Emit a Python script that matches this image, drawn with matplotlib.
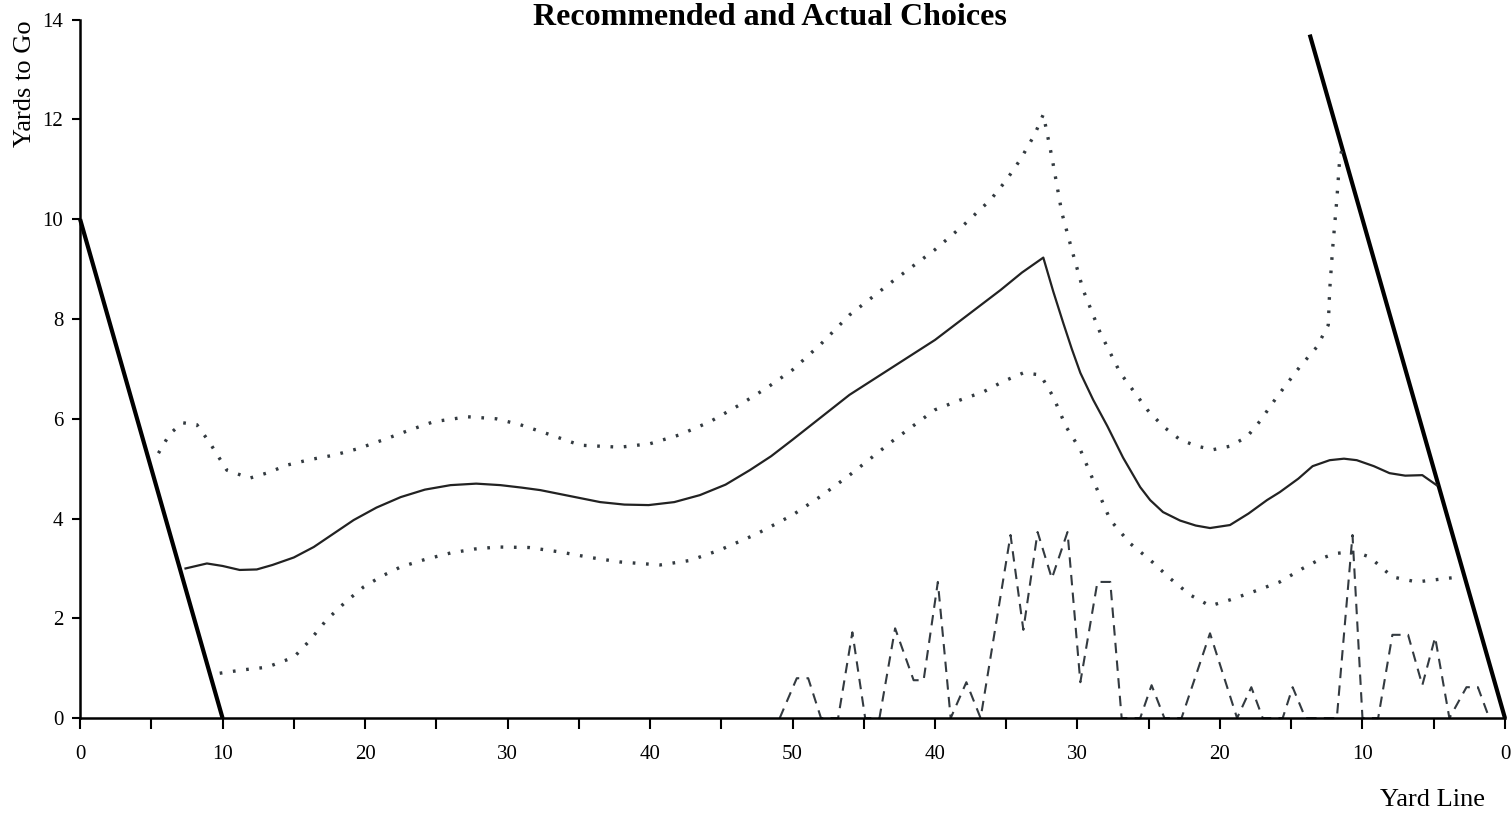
import numpy as np
import matplotlib.pyplot as plt

# ========================
# Data (x = yards from own goal line, y = yards to go)
# ========================
# boundary lines (heavy)
left_bound_x = [0, 10]
left_bound_y = [10, 0]
right_bound_x = [86.3, 100]
right_bound_y = [13.7, 0]

# recommended (solid)
rec_x = [7.4, 8.9, 10.0, 11.2, 12.4, 13.5, 15.0, 16.4, 17.8, 19.2, 20.8, 22.5, 24.2, 26.0,
         27.8, 29.5, 31.0, 32.3, 34.4, 36.5, 38.2, 39.9, 41.7, 43.5, 45.3, 47.0, 48.5, 50.0,
         52.0, 54.0, 57.0, 60.0, 62.3, 64.6, 66.1, 67.6, 68.3, 69.0, 69.6, 70.2, 71.1, 72.1,
         73.2, 74.4, 75.1, 76.0, 77.2, 78.3, 79.3, 80.7, 82.0, 83.3, 84.2, 85.5, 86.5, 87.7,
         88.7, 89.6, 90.8, 91.9, 93.0, 94.2, 95.2]
rec_y = [3.0, 3.1, 3.05, 2.97, 2.98, 3.07, 3.22, 3.43, 3.7, 3.97, 4.22, 4.43, 4.58, 4.67,
         4.7, 4.67, 4.62, 4.57, 4.45, 4.33, 4.28, 4.27, 4.33, 4.47, 4.68, 4.97, 5.25, 5.58,
         6.03, 6.48, 7.03, 7.58, 8.08, 8.58, 8.93, 9.23, 8.55, 7.92, 7.4, 6.92, 6.38, 5.85,
         5.22, 4.63, 4.37, 4.13, 3.96, 3.86, 3.81, 3.87, 4.1, 4.37, 4.53, 4.8, 5.05, 5.17,
         5.2, 5.17, 5.05, 4.91, 4.86, 4.87, 4.67]

# upper bound (dotted)
up_x = [5.5, 6.3, 7.2, 8.2, 9.1, 10.3, 11.9, 13.2, 14.5, 16.1, 17.8, 19.5, 21.3, 23.0,
        24.8, 27.2, 29.2, 30.9, 33.0, 35.1, 37.9, 40.0, 42.1, 44.2, 46.3, 48.2, 50.0, 52.0,
        54.0, 57.0, 60.0, 62.0, 63.9, 65.0, 66.0, 67.0, 67.6, 68.2, 68.9, 69.6, 70.4, 71.6,
        73.0, 74.9, 76.0, 77.2, 78.4, 79.5, 80.7, 81.9, 82.8, 84.0, 85.6, 86.8, 87.6, 87.7,
        87.9, 88.2, 88.4, 88.6]
up_y = [5.31, 5.7, 5.92, 5.88, 5.52, 4.97, 4.81, 4.92, 5.07, 5.18, 5.27, 5.4, 5.58, 5.76,
        5.94, 6.04, 6.0, 5.88, 5.68, 5.47, 5.43, 5.5, 5.68, 5.94, 6.28, 6.62, 6.98, 7.5,
        8.08, 8.75, 9.39, 9.88, 10.39, 10.78, 11.2, 11.7, 12.1, 11.25, 10.13, 9.39, 8.58, 7.72,
        6.92, 6.18, 5.85, 5.58, 5.45, 5.38, 5.45, 5.64, 5.95, 6.44, 7.04, 7.44, 7.88, 8.58,
        9.39, 10.39, 11.2, 11.45]

# lower bound (dotted)
lo_x = [9.8, 11.5, 13.1, 15.0, 16.1, 17.3, 18.6, 19.9, 21.2, 22.5, 24.2, 26.0, 27.7, 29.3,
        31.5, 33.7, 35.8, 37.9, 40.7, 42.8, 44.9, 47.4, 50.0, 52.0, 54.0, 57.0, 60.0, 61.8,
        63.4, 64.8, 66.2, 67.4, 68.3, 69.2, 70.2, 71.1, 72.3, 73.7, 75.1, 76.5, 77.9, 79.3,
        80.7, 82.5, 84.2, 85.8, 87.2, 88.1, 89.1, 89.8, 90.5, 91.3, 92.1, 93.8, 95.3, 96.8]
lo_y = [0.9, 0.97, 1.02, 1.22, 1.55, 1.97, 2.32, 2.63, 2.85, 3.03, 3.18, 3.31, 3.39, 3.43,
        3.42, 3.33, 3.22, 3.13, 3.07, 3.16, 3.37, 3.68, 4.07, 4.45, 4.87, 5.55, 6.18, 6.38,
        6.54, 6.75, 6.92, 6.88, 6.44, 5.84, 5.38, 4.77, 3.97, 3.5, 3.17, 2.8, 2.47, 2.25,
        2.37, 2.55, 2.73, 3.0, 3.21, 3.3, 3.33, 3.3, 3.23, 3.03, 2.83, 2.73, 2.78, 2.83]

# actual choices (dashed)
act_x = [49.1, 50.3, 51.1, 52.0, 53.2, 54.2, 55.1, 56.1, 57.2, 58.5, 59.2, 60.2, 61.1, 62.2,
         63.2, 65.3, 66.2, 67.2, 68.2, 69.3, 70.2, 71.4, 72.3, 73.1, 74.4, 75.2, 76.1, 77.3,
         79.3, 81.2, 82.2, 83.0, 84.4, 85.1, 86.0, 88.2, 89.3, 90.0, 91.1, 92.1, 93.2, 94.2,
         95.1, 96.1, 97.3, 98.1, 98.9]
act_y = [0.0, 0.8, 0.8, 0.0, 0.0, 1.72, 0.0, 0.0, 1.8, 0.76, 0.76, 2.73, 0.0, 0.72,
         0.0, 3.67, 1.77, 3.73, 2.8, 3.73, 0.72, 2.73, 2.73, 0.0, 0.0, 0.66, 0.0, 0.0,
         1.7, 0.0, 0.62, 0.0, 0.0, 0.62, 0.0, 0.0, 3.67, 0.0, 0.0, 1.67, 1.67, 0.66,
         1.62, 0.0, 0.62, 0.62, 0.0]

major_ticks = [0, 10, 20, 30, 40, 50, 60, 70, 80, 90, 100]
tick_labels = ["0", "10", "20", "30", "40", "50", "40", "30", "20", "10", "0"]
y_ticks = [0, 2, 4, 6, 8, 10, 12, 14]

# ========================
# Plot
# ========================
plt.rcParams["font.family"] = ["Liberation Serif", "DejaVu Serif"]

fig = plt.figure(figsize=(15.11, 8.17), dpi=100)
ax = fig.add_axes([0.053, 0.121, 0.943, 0.855])

ax.plot(left_bound_x, left_bound_y, color="black", lw=3.0, solid_capstyle="butt", clip_on=False)
ax.plot(right_bound_x, right_bound_y, color="black", lw=3.0, solid_capstyle="butt", clip_on=False)
ax.plot(rec_x, rec_y, color="#222222", lw=1.6)
ax.plot(up_x, up_y, color="#333a40", lw=2.4, linestyle=(0, (0.8, 3.2)))
ax.plot(lo_x, lo_y, color="#333a40", lw=2.4, linestyle=(0, (0.8, 3.2)))
ax.plot(act_x, act_y, color="#333a40", lw=1.5, linestyle=(0, (5, 3.5)), clip_on=False)

ax.set_xlim(0, 100)
ax.set_ylim(0, 14)
ax.set_xticks(major_ticks)
ax.set_xticklabels(tick_labels)
ax.set_xticks(np.arange(5, 100, 10), minor=True)
ax.set_yticks(y_ticks)

for s in ["top", "right"]:
    ax.spines[s].set_visible(False)
for s in ["left", "bottom"]:
    ax.spines[s].set_linewidth(1.8)

ax.tick_params(axis="x", which="both", direction="out", length=8, width=1.5, pad=11, labelsize=15)
ax.tick_params(axis="y", direction="out", length=6, width=1.5, pad=6, labelsize=15)

fig.text(770 / 1511, 1 - 25 / 817, "Recommended and Actual Choices", ha="center", va="baseline",
         fontsize=23, fontweight="bold")
fig.text(25 / 1511, 1 - 84 / 817, "Yards to Go", rotation=90, ha="center", va="center", fontsize=19)
fig.text(1433 / 1511, 1 - 800 / 817, "Yard Line", ha="center", va="center", fontsize=19)

fig.savefig("out.png", dpi=100)
